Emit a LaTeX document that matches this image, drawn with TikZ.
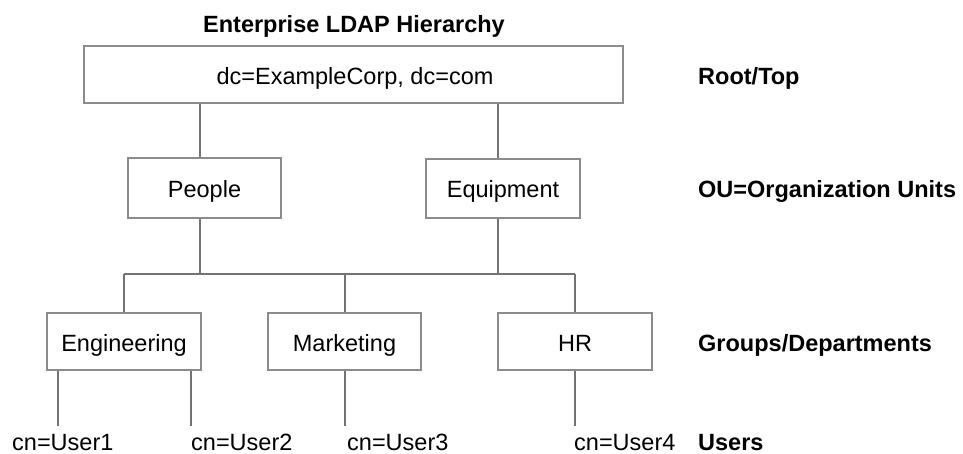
\documentclass[tikz,border=0pt]{standalone}
\usepackage{fontspec}
\setmainfont{Liberation Sans}
\begin{document}
\begin{tikzpicture}[x=1pt,y=-1pt,
  every node/.style={font=\fontsize{23.5}{28}\selectfont},
  box/.style={draw=black!45,line width=1.3pt,inner sep=0pt},
  txt/.style={inner sep=0pt,anchor=base},
  lbl/.style={inner sep=0pt,anchor=base west,font=\fontsize{23.5}{28}\selectfont\bfseries},
  usr/.style={inner sep=0pt,anchor=base west},
  conn/.style={draw=black!55,line width=1.3pt}]
\useasboundingbox (0,0) rectangle (963,453);
% title
\node[txt,font=\fontsize{23.5}{28}\selectfont\bfseries] (title) at (354,32) {Enterprise LDAP Hierarchy};
% boxes
\node[box,minimum width=539pt,minimum height=57pt] (root) at (353.5,74.5) {};
\node[txt] (roott) at (355,84) {dc=ExampleCorp, dc=com};
\node[box,minimum width=153pt,minimum height=60pt] (people) at (204.5,188) {};
\node[txt] (peoplet) at (204.5,197) {People};
\node[box,minimum width=154pt,minimum height=59pt] (equip) at (503,188.5) {};
\node[txt] (equipt) at (503,197) {Equipment};
\node[box,minimum width=154pt,minimum height=57pt] (eng) at (124,341.5) {};
\node[txt] (engt) at (124,351) {Engineering};
\node[box,minimum width=153pt,minimum height=57pt] (mkt) at (344.5,341.5) {};
\node[txt] (mktt) at (344.5,351) {Marketing};
\node[box,minimum width=154pt,minimum height=57pt] (hr) at (575,341.5) {};
\node[txt] (hrt) at (575,351) {HR};
% users
\node[usr] (u1) at (12,450) {cn=User1};
\node[usr] (u2) at (191,450) {cn=User2};
\node[usr] (u3) at (347,450) {cn=User3};
\node[usr] (u4) at (574,450) {cn=User4};
% right labels
\node[lbl] (l1) at (698,84) {Root/Top};
\node[lbl] (l2) at (698,197) {OU=Organization Units};
\node[lbl] (l3) at (698,351) {Groups/Departments};
\node[lbl] (l4) at (698,450) {Users};
% connectors
\coordinate (jL) at (200,274);
\coordinate (jR) at (498,274);
\coordinate (bL) at (124,274);
\coordinate (bM) at (345,274);
\coordinate (bR) at (575,274);
\coordinate (e1) at (58,426);
\coordinate (e2) at (191,426);
\coordinate (e3) at (345,426);
\coordinate (e4) at (575,426);
\draw[conn] (root.south -| jL) -- (people.north -| jL);
\draw[conn] (root.south -| jR) -- (equip.north -| jR);
\draw[conn] (people.south -| jL) -- (jL);
\draw[conn] (equip.south -| jR) -- (jR);
\draw[conn] (bL) -- (bR);
\draw[conn] (bL) -- (eng.north -| bL);
\draw[conn] (bM) -- (mkt.north -| bM);
\draw[conn] (bR) -- (hr.north -| bR);
\draw[conn] (eng.south -| e1) -- (e1);
\draw[conn] (eng.south -| e2) -- (e2);
\draw[conn] (mkt.south -| e3) -- (e3);
\draw[conn] (hr.south -| e4) -- (e4);
\end{tikzpicture}
\end{document}
